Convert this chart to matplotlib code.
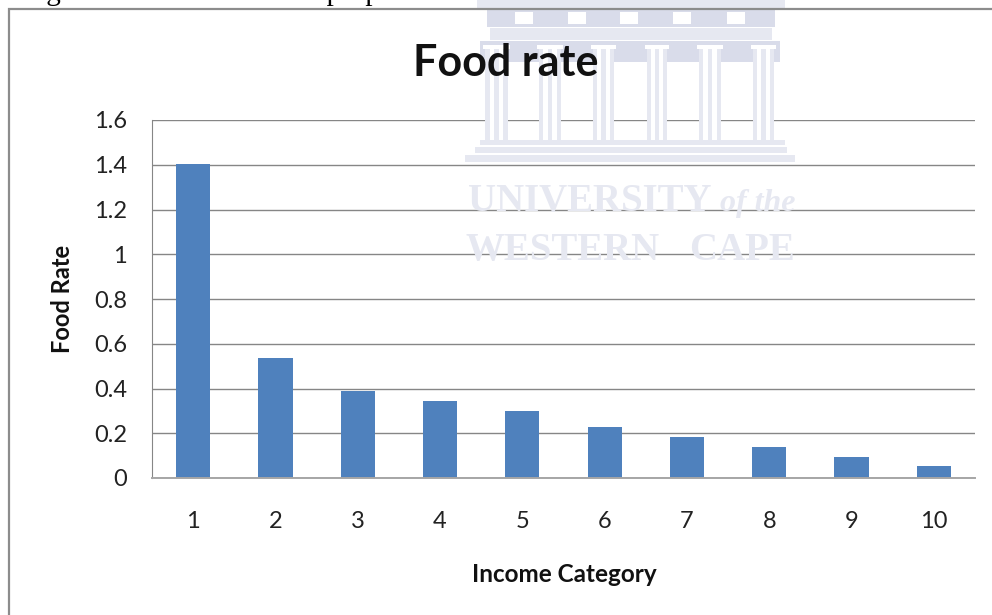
import matplotlib
matplotlib.use("Agg")
import matplotlib.pyplot as plt
from matplotlib.patches import Rectangle

categories = ['1', '2', '3', '4', '5', '6', '7', '8', '9', '10']
food_rate = [1.405, 0.535, 0.39, 0.345, 0.30, 0.23, 0.185, 0.14, 0.095, 0.052]
y_ticks = [0, 0.2, 0.4, 0.6, 0.8, 1, 1.2, 1.4, 1.6]
y_tick_labels = ['0', '0.2', '0.4', '0.6', '0.8', '1', '1.2', '1.4', '1.6']

W, H = 992, 615
plt.rcParams['font.family'] = ['Lato', 'DejaVu Sans']
fig = plt.figure(figsize=(W / 100, H / 100), dpi=100, facecolor='white')

def px_rect(x0, y0, x1, y1, color, z=0):
    fig.add_artist(Rectangle((x0 / W, 1 - y1 / H), (x1 - x0) / W, (y1 - y0) / H,
                             transform=fig.transFigure, fc=color, ec='none', zorder=z))

# watermark (behind chart)
wm = '#d9dcea'
wm2 = '#e6e8f1'
px_rect(477, 0, 785, 8, wm2)
px_rect(487, 10, 775, 27, wm)
for x0 in [515, 568, 620, 673, 727]:
    px_rect(x0, 12, x0 + 18, 24, 'white', 0.1)
px_rect(490, 28, 772, 40, wm2)
px_rect(480, 41, 780, 62, wm)
for x0, x1 in [(485, 508), (539, 561), (593, 614), (647, 667), (699, 721), (753, 774)]:
    px_rect(x0 - 2, 45, x1 + 2, 49, 'white', 0.1)
    px_rect(x0, 49, x1, 140, wm2, 0.05)
    w = (x1 - x0) / 5
    px_rect(x0 + w, 49, x0 + 2 * w, 140, 'white', 0.1)
    px_rect(x0 + 3 * w, 49, x0 + 4 * w, 140, 'white', 0.1)
px_rect(480, 140, 785, 145, wm2)
px_rect(475, 147, 787, 153, wm2)
px_rect(465, 155, 795, 162, wm2)

serif = 'Liberation Serif'
fig.text(468 / W, 1 - 211 / H, 'UNIVERSITY', family=serif, fontsize=28, weight='bold',
         color=wm2, ha='left', va='baseline', zorder=0)
fig.text(795 / W, 1 - 211 / H, 'of the', family=serif, fontsize=23, style='italic', weight='bold',
         color=wm2, ha='right', va='baseline', zorder=0)
fig.text(466 / W, 1 - 260 / H, 'WESTERN', family=serif, fontsize=28, weight='bold',
         color=wm2, ha='left', va='baseline', zorder=0)
fig.text(795 / W, 1 - 260 / H, 'CAPE', family=serif, fontsize=28, weight='bold',
         color=wm2, ha='right', va='baseline', zorder=0)

# chart frame (runs off the right and bottom of the picture) and cropped caption
fig.add_artist(Rectangle((8.5 / W, -0.1), 1.1, 1.1 - 8.5 / H, transform=fig.transFigure,
                         fc='none', ec='#8c8c8c', lw=1.6, zorder=1))
fig.text(22 / W, 1 - 0 / H, 'Figure 4.4: Food rate as a proportion of income', family=serif,
         fontsize=21, color='black', ha='left', va='baseline')

ax = fig.add_axes([152 / W, 1 - 478 / H, (975 - 152) / W, (478 - 120) / H])
ax.patch.set_alpha(0)
ax.set_axisbelow(True)
x = range(len(categories))
ax.bar(x, food_rate, width=0.415, color='#4f81bd', zorder=2)
ax.set_xlim(-0.5, 9.5)
ax.set_ylim(0, 1.6)
ax.set_yticks(y_ticks, y_tick_labels)
ax.set_xticks(list(x), categories)
ax.grid(axis='y', color='#868686', lw=1)
ax.tick_params(axis='y', length=0, pad=18, labelsize=17, labelcolor='#222222')
ax.tick_params(axis='x', length=0, pad=24, labelsize=17, labelcolor='#222222')
for s in ['top', 'right']:
    ax.spines[s].set_visible(False)
ax.spines['left'].set_color('#868686')
ax.spines['bottom'].set_color('#a6a6a6')
ax.spines['bottom'].set_linewidth(1.4)

fig.text(506 / W, 1 - 63 / H, 'Food rate', fontsize=31, weight='bold', color='#111111',
         ha='center', va='center')
fig.text(564 / W, 1 - 575 / H, 'Income Category', fontsize=17.5, weight='bold', color='#111111',
         ha='center', va='center')
fig.text(62 / W, 1 - 299 / H, 'Food Rate', fontsize=17, weight='bold', color='#111111',
         rotation=90, ha='center', va='center')

fig.savefig('out.png', dpi=100)
